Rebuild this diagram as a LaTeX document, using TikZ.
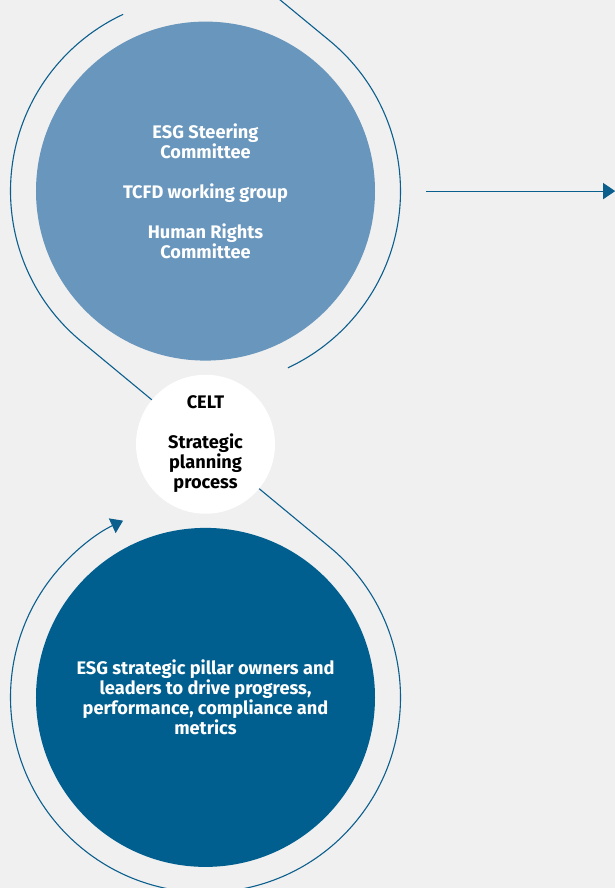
\documentclass[tikz,border=0pt]{standalone}
\usepackage{fontspec}
\setmainfont{Fira Sans}
\usetikzlibrary{positioning,arrows.meta}

\definecolor{esgpale}{HTML}{6996BC}
\definecolor{esgdark}{HTML}{005F8F}
\definecolor{esgline}{HTML}{0B5F8D}
\definecolor{esgback}{HTML}{F0F0F0}

\tikzset{
  bigdisc/.style={circle, minimum size=339pt, inner sep=0pt, align=center, text=white,
    font=\bfseries\fontsize{18.2}{20}\selectfont},
  hubdisc/.style={circle, fill=white, minimum size=139pt, inner sep=0pt, align=center,
    font=\bfseries\fontsize{18.2}{20}\selectfont},
  ring/.style={draw=esgline, line width=1.1pt},
  tip/.style={-{Triangle[length=12pt,width=16pt]}},
}

\begin{document}
\begin{tikzpicture}[x=1pt,y=1pt]
  \fill[esgback] (-205.5,-443.75) rectangle (409.5,444.25);
  \clip (-205.5,-443.75) rectangle (409.5,444.25);

  \node (celt) [hubdisc] at (0,0) {CELT\\[20pt]Strategic\\planning\\process};
  \node (committees) [bigdisc, fill=esgpale, above=13.75pt of celt]
    {ESG Steering\\Committee\\[20pt]TCFD working group\\[20pt]Human Rights\\Committee};
  \node (owners) [bigdisc, fill=esgdark, below=13.75pt of celt]
    {ESG strategic pillar owners and\\leaders to drive progress,\\performance, compliance and\\metrics};

  % upper loop
  \draw[ring] (celt) -- ([shift={(230.5:195)}]committees.center)
    arc[start angle=230.5, end angle=115, radius=195];
  \coordinate (loop-top) at ([shift={(50.5:195)}]committees.center);
  \draw[ring] ([shift={(140.5:80)}]loop-top) -- (loop-top)
    arc[start angle=50.5, end angle=-65, radius=195];

  % lower loop, back into the hub
  \draw[ring, tip] (celt) -- ([shift={(50.5:195)}]owners.center)
    arc[start angle=50.5, end angle=-245, radius=195];

  % outgoing arrow
  \coordinate (out-start) at ([xshift=51pt]committees.east);
  \coordinate (out-end) at ([xshift=240pt]committees.east);
  \draw[ring, tip] (out-start) -- (out-end);
\end{tikzpicture}
\end{document}
